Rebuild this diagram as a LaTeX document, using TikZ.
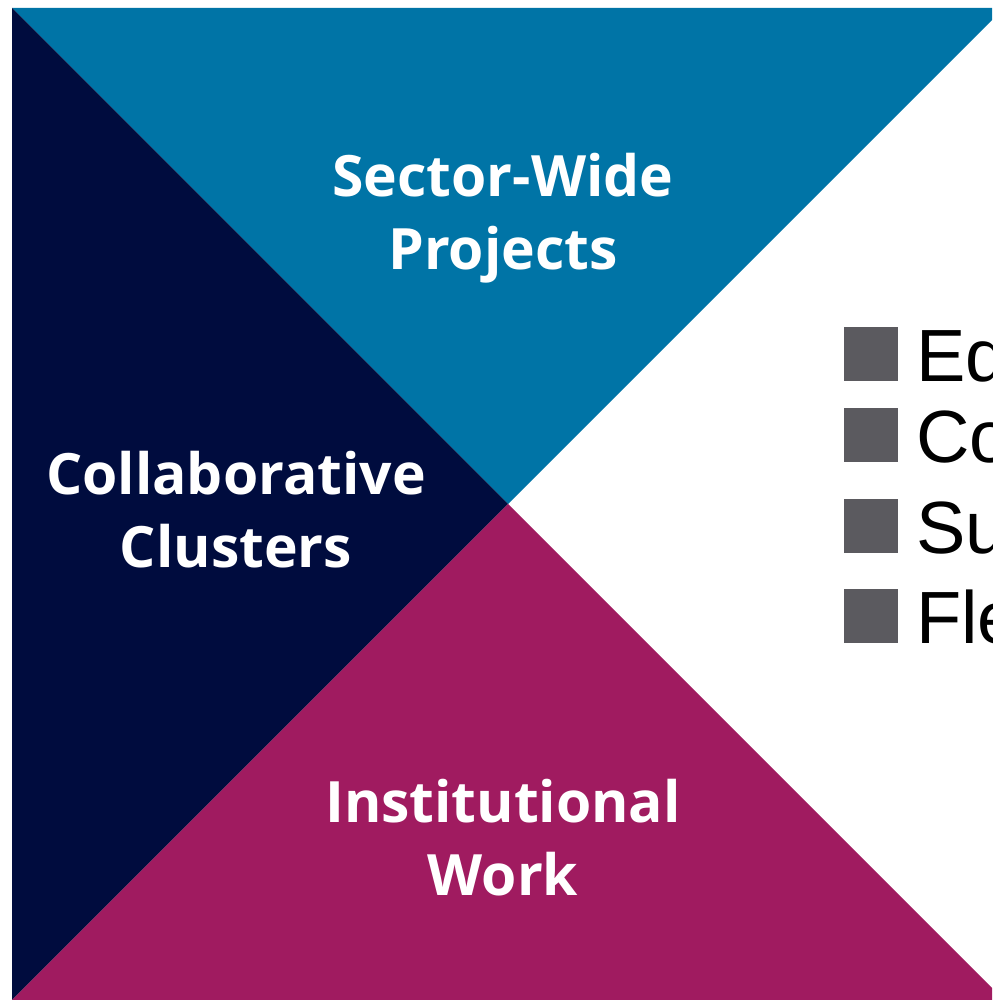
\documentclass[tikz,border=0pt]{standalone}
\usepackage{fontspec}
\setmainfont{Liberation Sans}
\newfontfamily\labelfont{Open Sans}[UprightFont=* Bold, Ligatures={NoCommon,NoRequired,NoContextual}]
\definecolor{topblue}{HTML}{0074A6}
\definecolor{navy}{HTML}{000C3E}
\definecolor{magenta}{HTML}{A01B60}
\definecolor{bulletgray}{HTML}{5B5A5F}
\tikzset{
  quad/.style={draw=none},
  qlabel/.style={text=white, align=center, inner sep=0pt,
    font=\labelfont\fontsize{57}{73}\selectfont},
  bulletsq/.style={fill=bulletgray, draw=none},
  btext/.style={anchor=base west, inner sep=0pt, text=black,
    font=\fontsize{74}{80}\selectfont}
}
\begin{document}
\begin{tikzpicture}[x=1pt,y=-1pt]
\useasboundingbox (0,0) rectangle (992,1000);
\clip (0,0) rectangle (992,1000);
\fill[white] (0,0) rectangle (992,1000);
\coordinate (TL) at (12,8);
\coordinate (TR) at (1004,8);
\coordinate (BL) at (12,1000);
\coordinate (BR) at (1004,1000);
\coordinate (C) at (508,504);
\fill[topblue, quad] (TL) -- (TR) -- (C) -- cycle;
\fill[navy, quad] (TL) -- (C) -- (BL) -- cycle;
\fill[magenta, quad] (BL) -- (C) -- (BR) -- cycle;
\node[qlabel] (top) at (503,218) {Sector-Wide\\Projects};
\node[qlabel] (left) at (236,510) {Collaborative\\Clusters};
\node[qlabel] (bottom) at (503,838) {Institutional\\Work};
\fill[bulletsq] (844,327) rectangle (898,381);
\fill[bulletsq] (844,408) rectangle (898,462);
\fill[bulletsq] (844,499) rectangle (898,553);
\fill[bulletsq] (844,589) rectangle (898,643);
\node[btext] (b1) at (916,381) {Ed};
\node[btext] (b2) at (916,462) {Co};
\node[btext] (b3) at (916,553) {Su};
\node[btext] (b4) at (916,643) {Fle};
\end{tikzpicture}
\end{document}
